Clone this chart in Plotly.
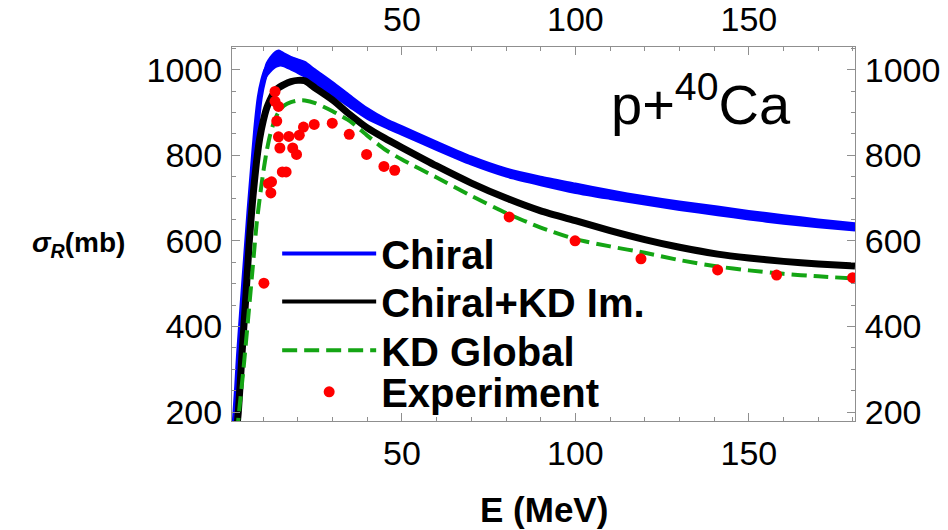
import plotly.graph_objects as go

# ---- data ----
# Chiral band (upper and lower edges), mb
blue_E = [1.8, 2.5, 3, 4, 5, 6, 7, 8, 9, 10, 11, 12, 13, 14, 14.5, 15, 16, 18, 20, 22, 25, 30, 35, 40, 46,
          50, 60, 70, 80, 90, 100, 110, 120, 130, 141, 150, 160, 170, 180.6]
blue_up = [178, 263, 333, 448, 558, 668, 768, 866, 940, 985, 1015, 1028, 1038, 1044, 1045, 1043, 1038, 1030, 1024, 1018,
           1000, 971, 940, 910, 882, 868, 832, 797, 769, 750, 734, 718, 704, 692, 680, 670, 660, 650, 641]
blue_lo = [172, 257, 327, 442, 552, 662, 762, 858, 930, 965, 985, 995, 1003, 1008, 1009, 1010, 1008, 1000, 992, 983,
           965, 940, 912, 885, 862, 848, 812, 778, 750, 730, 712, 698, 685, 672, 660, 650, 640, 632, 624]

# Chiral + KD Im.
black_E = [1.8, 2.8, 4, 5, 6, 7, 8, 9, 10, 11, 12, 13, 14, 16, 18, 20, 22, 25, 30, 35, 40, 45, 50, 60, 70, 80,
           90, 100, 110, 120, 130, 141, 150, 160, 170, 180.6]
black_sig = [120, 198, 350, 470, 600, 700, 780, 840, 880, 910, 930, 945, 955, 965, 972, 975, 974, 957, 929, 895, 864, 840,
             818, 775, 735, 700, 670, 647, 624, 603, 585, 569, 560, 552, 546, 541]

# KD Global
green_E = [1.8, 3.0, 4.3, 5.7, 7, 8.1, 9, 10, 11, 12, 13, 14, 15, 16, 18, 20, 22, 25, 30, 35, 40, 45, 50, 60, 70,
           80, 90, 100, 110, 120, 130, 141, 150, 160, 170, 180.6]
green_sig = [100, 198, 300, 423, 540, 640, 700, 760, 810, 848, 875, 895, 908, 916, 924, 928, 928, 922, 903, 880, 846, 814,
             790, 748, 705, 665, 631, 604, 587, 572, 555, 540, 531, 523, 517, 512]

# Experiment
exp_E = [10.2, 11.5, 12.4, 12.2, 13.4, 13.4, 14.4, 13.9, 14.4, 14.8, 15.5, 16.6, 17.4, 18.5, 19.6, 20.4, 21.6,
         24.7, 29.9, 34.8, 39.8, 44.8, 47.9, 80.9, 99.9, 118.9, 141, 158, 179.9]
exp_sig = [501, 734, 738, 712, 949, 926, 914, 880, 843, 817, 761, 761, 844, 817, 802, 847, 866,
           872, 875, 849, 802, 774, 765, 656, 600, 558, 532, 520, 514]

series_names = ["Chiral", "Chiral+KD Im.", "KD Global", "Experiment"]

x_range = [1.0, 180.6]
y_range = [179, 1053]
x_ticks = [50, 100, 150]
y_ticks = [200, 400, 600, 800, 1000]

FONT = "Liberation Sans, Arial, sans-serif"
GRAY = "#8f8f8f"
BLUE = "rgb(0,0,255)"
GREEN = "rgb(20,165,20)"
RED = "rgb(255,0,0)"

fig = go.Figure()

# blue band
fig.add_trace(go.Scatter(x=blue_E, y=blue_lo, mode="lines",
                         line=dict(color=BLUE, width=2, shape="spline", smoothing=0.6),
                         showlegend=False, hoverinfo="skip"))
fig.add_trace(go.Scatter(x=blue_E, y=blue_up, mode="lines",
                         line=dict(color=BLUE, width=2, shape="spline", smoothing=0.6),
                         fill="tonexty", fillcolor=BLUE, showlegend=False, hoverinfo="skip"))
blue_mid = [(a + b) / 2 for a, b in zip(blue_up, blue_lo)]
fig.add_trace(go.Scatter(x=blue_E, y=blue_mid, mode="lines", showlegend=False,
                         line=dict(color=BLUE, width=6, shape="spline", smoothing=0.6)))
fig.add_trace(go.Scatter(x=black_E, y=black_sig, mode="lines", showlegend=False,
                         line=dict(color="black", width=7, shape="spline", smoothing=0.6)))
fig.add_trace(go.Scatter(x=green_E, y=green_sig, mode="lines", showlegend=False,
                         line=dict(color=GREEN, width=4, dash="15px,7px", shape="spline", smoothing=0.6)))
fig.add_trace(go.Scatter(x=exp_E, y=exp_sig, mode="markers", showlegend=False,
                         marker=dict(color=RED, size=11, line=dict(width=0))))

# legend entries (one legend per row)
fig.add_trace(go.Scatter(x=[None], y=[None], mode="lines", name=series_names[0], legend="legend",
                         line=dict(color=BLUE, width=4)))
fig.add_trace(go.Scatter(x=[None], y=[None], mode="lines", name=series_names[1], legend="legend2",
                         line=dict(color="black", width=4)))
fig.add_trace(go.Scatter(x=[None], y=[None], mode="lines", name=series_names[2], legend="legend3",
                         line=dict(color=GREEN, width=4, dash="15px,7px")))
fig.add_trace(go.Scatter(x=[None], y=[None], mode="markers", name=series_names[3], legend="legend4",
                         marker=dict(color=RED, size=11, line=dict(width=0))))

# helper trace for mirrored axes
fig.add_trace(go.Scatter(x=[None], y=[None], xaxis="x2", yaxis="y2", showlegend=False, hoverinfo="skip"))

axis_common = dict(showline=True, linecolor=GRAY, linewidth=1, ticks="inside", tickcolor=GRAY,
                   ticklen=8, tickwidth=1, showgrid=False, zeroline=False, automargin=False,
                   tickfont=dict(family=FONT, size=34, color="black"))

legend_common = dict(x=0.0725, xanchor="left", yanchor="top", bgcolor="rgba(0,0,0,0)",
                     font=dict(family=FONT, size=40, color="black", weight="bold"), itemwidth=94)

fig.update_layout(
    width=948, height=530,
    margin=dict(l=232, r=93, t=47, b=109, autoexpand=False),
    paper_bgcolor="white", plot_bgcolor="white",
    xaxis=dict(range=x_range, tickvals=x_ticks, ticklabelstandoff=2,
               minor=dict(dtick=10, tick0=0, ticks="inside", ticklen=4, tickcolor=GRAY), **axis_common),
    xaxis2=dict(range=x_range, tickvals=x_ticks, overlaying="x", side="top", anchor="y", ticklabelstandoff=1,
                minor=dict(dtick=10, tick0=0, ticks="inside", ticklen=4, tickcolor=GRAY), **axis_common),
    yaxis=dict(range=y_range, tickvals=y_ticks, ticklabelstandoff=2,
               minor=dict(dtick=50, tick0=0, ticks="inside", ticklen=4, tickcolor=GRAY), **axis_common),
    yaxis2=dict(range=y_range, tickvals=y_ticks, overlaying="y", side="right", anchor="x", ticklabelstandoff=2,
                minor=dict(dtick=50, tick0=0, ticks="inside", ticklen=4, tickcolor=GRAY), **axis_common),
    legend=dict(y=0.5347, **legend_common),
    legend2=dict(y=0.4066, **legend_common),
    legend3=dict(y=0.2758, **legend_common),
    legend4=dict(y=0.165, **legend_common),
    showlegend=True,
)

fig.add_annotation(text="<b>E (MeV)</b>", xref="paper", yref="paper", x=0.5, y=-0.237,
                   xanchor="center", yanchor="middle", showarrow=False,
                   font=dict(family=FONT, size=35, color="black"))
fig.add_annotation(text="<b><i>σ</i><sub><i>R</i></sub>(mb)</b>", xref="paper", yref="paper",
                   x=-0.168, y=0.4706, xanchor="right", yanchor="middle", showarrow=False,
                   font=dict(family=FONT, size=28, color="black"))
fig.add_annotation(text="p+<sup>40</sup>Ca", xref="paper", yref="paper", x=0.753, y=0.857,
                   xanchor="center", yanchor="middle", showarrow=False,
                   font=dict(family=FONT, size=56, color="black"))

fig.write_html("out.html")
